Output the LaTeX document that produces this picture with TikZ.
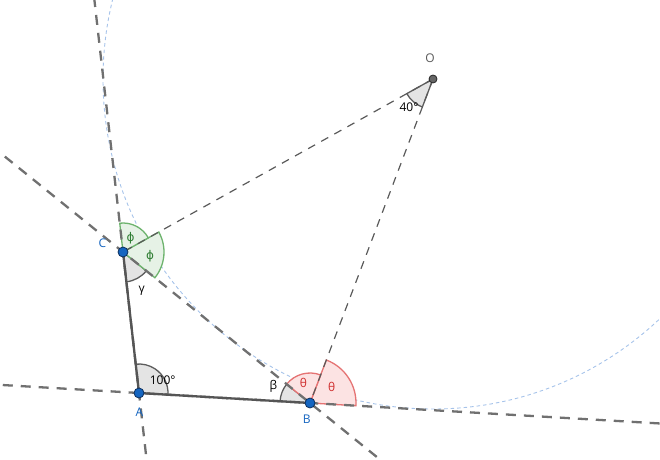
\documentclass[tikz,border=0pt]{standalone}
\usepackage{fontspec}
\setmainfont{Open Sans}
\newfontfamily\phifont{DejaVu Sans}
\usetikzlibrary{calc}
\definecolor{lngray}{HTML}{707070}
\definecolor{sidegray}{HTML}{555555}
\definecolor{thingray}{HTML}{5A5A5A}
\definecolor{circblue}{HTML}{A6C3EA}
\definecolor{secfillgray}{HTML}{E4E4E4}
\definecolor{secdrawgray}{HTML}{5C5C5C}
\definecolor{secfillred}{HTML}{FCE3E3}
\definecolor{secdrawred}{HTML}{E57373}
\definecolor{secfillgreen}{HTML}{E6F2E6}
\definecolor{secdrawgreen}{HTML}{6DB36D}
\definecolor{txtred}{HTML}{D03030}
\definecolor{txtgreen}{HTML}{2E7D32}
\definecolor{ptblue}{HTML}{1565C0}
\definecolor{ptedge}{HTML}{0D2F5C}
\tikzset{
  longdash/.style={draw=lngray, line width=2.3pt, dash pattern=on 10pt off 8pt},
  thindash/.style={draw=thingray, line width=1.2pt, dash pattern=on 8pt off 7pt},
  sideline/.style={draw=sidegray, line width=2.3pt},
  excircle/.style={draw=circblue, line width=0.9pt, dash pattern=on 3.5pt off 3pt},
  graysec/.style={fill=secfillgray, draw=secdrawgray, line width=1.3pt},
  redsec/.style={fill=secfillred, draw=secdrawred, line width=1.3pt},
  greensec/.style={fill=secfillgreen, draw=secdrawgreen, line width=1.3pt},
  ptdot/.style={circle, fill=ptblue, draw=ptedge, line width=0.8pt, minimum size=10pt, inner sep=0pt},
  odot/.style={circle, fill=black!60, draw=black!85, line width=0.8pt, minimum size=8pt, inner sep=0pt},
  lbl/.style={inner sep=0pt, font=\fontsize{12}{14}\selectfont},
}
\begin{document}
\begin{tikzpicture}[x=1pt,y=1pt]
\useasboundingbox (0,0) rectangle (660,459);
\clip (0,0) rectangle (660,459);
\coordinate (A) at (139,66);
\coordinate (B) at (310,56);
\coordinate (C) at (123,207);
\coordinate (O) at (433,380);

% excircle
\draw[excircle] (O) circle[radius=330];

% angle sectors
\path[graysec] (A) -- ++(-3.35:29) arc[start angle=-3.35, end angle=96.47, radius=29] -- cycle;
\path[graysec] (B) -- ++(141.08:30) arc[start angle=141.08, end angle=176.65, radius=30] -- cycle;
\path[graysec] (C) -- ++(-83.53:30) arc[start angle=-83.53, end angle=-38.92, radius=30] -- cycle;
\path[graysec] (O) -- ++(209.16:30) arc[start angle=209.16, end angle=249.21, radius=30] -- cycle;
\path[redsec] (B) -- ++(-3.35:46) arc[start angle=-3.35, end angle=69.21, radius=46] -- cycle;
\path[redsec] (B) -- ++(69.21:30) arc[start angle=69.21, end angle=141.08, radius=30] -- cycle;
\path[greensec] (C) -- ++(-38.92:41) arc[start angle=-38.92, end angle=29.16, radius=41] -- cycle;
\path[greensec] (C) -- ++(29.16:29) arc[start angle=29.16, end angle=96.47, radius=29] -- cycle;

% long dashed lines
\draw[longdash] ($(A)!-5!(B)$) -- ($(A)!5!(B)$);
\draw[longdash] ($(A)!-5!(C)$) -- ($(A)!5!(C)$);
\draw[longdash] ($(B)!-5!(C)$) -- ($(B)!5!(C)$);

% bisectors to O
\draw[thindash] (O) -- (C);
\draw[thindash] (O) -- (B);

% triangle sides
\draw[sideline] (A) -- (B);
\draw[sideline] (A) -- (C);

% points
\node[ptdot] (pA) at (A) {};
\node[ptdot] (pB) at (B) {};
\node[ptdot] (pC) at (C) {};
\node[odot] (pO) at (O) {};

% labels
\node[lbl, text=ptblue] (lA) at (139.3,47.3) {A};
\node[lbl, text=ptblue] (lB) at (306.7,40) {B};
\node[lbl, text=ptblue] (lC) at (102.5,216) {C};
\node[lbl, text=black!65] (lO) at (430,400.5) {O};
\node[lbl] (l100) at (162.7,78.5) {100°};
\node[lbl] (l40) at (409,351.5) {40°};
\node[lbl] (lbeta) at (273.3,72.3) {β};
\node[lbl] (lgamma) at (141.7,168) {γ};
\node[lbl, text=txtred] (lth1) at (303.3,75.7) {θ};
\node[lbl, text=txtred] (lth2) at (331.7,72.3) {θ};
\node[lbl, text=txtgreen] (lph1) at (130.7,220.7) {\phifont ϕ};
\node[lbl, text=txtgreen] (lph2) at (150,203.3) {\phifont ϕ};
\end{tikzpicture}
\end{document}
